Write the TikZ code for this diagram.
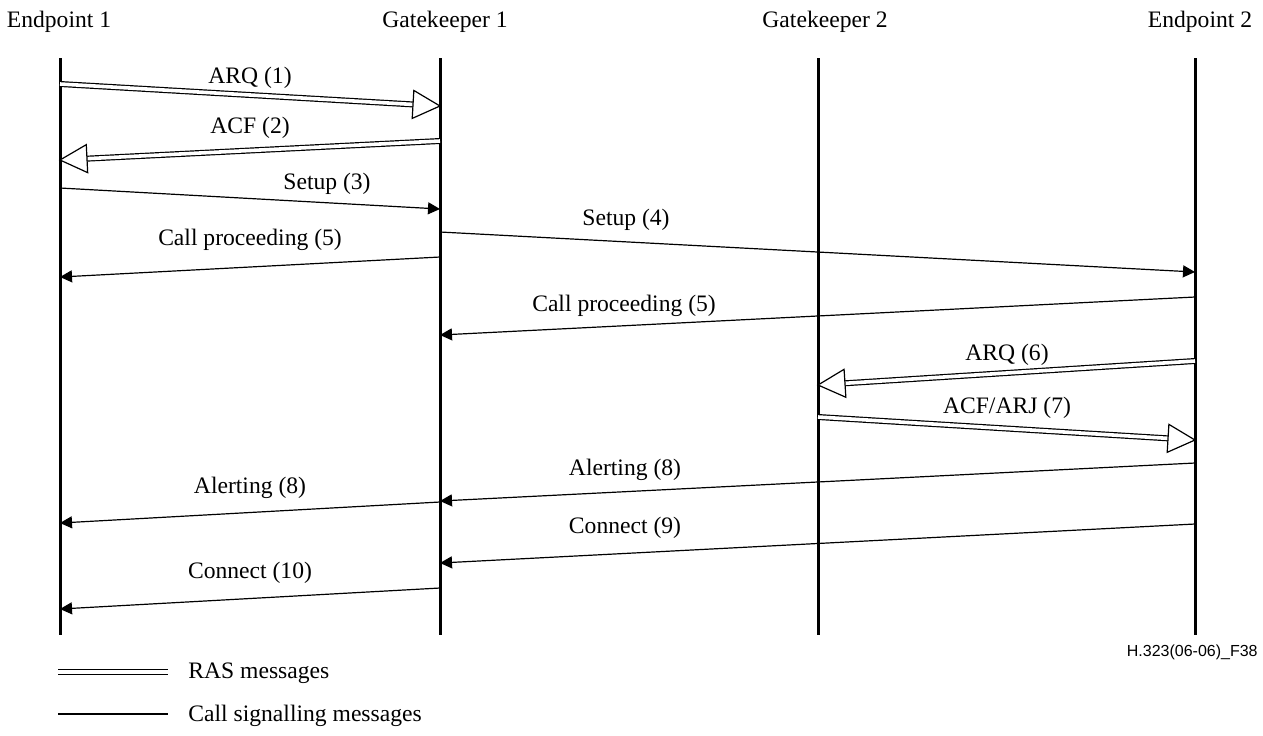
\documentclass[tikz,border=0pt]{standalone}
\usepackage{fontspec}
\setmainfont{Liberation Serif}
\newfontfamily\figfont{Liberation Sans}
\usepackage{tikz}
\usetikzlibrary{arrows.meta,decorations.markings}

\begin{document}
\begin{tikzpicture}[x=0.5pt,y=-0.5pt,
  lifeline/.style={line width=1.5pt},
  callmsg/.style={line width=.6pt,-{Triangle[length=6pt,width=6pt]}},
  rasline/.style={double,double distance=1.8pt,line width=.6pt},
  rasmsg/.style={rasline,shorten >=6pt,
    postaction={decorate},decoration={markings,mark=at position 1 with
      {\draw[line width=.6pt,fill=white] (0pt,0pt)--(-13.5pt,7pt)--(-13.5pt,-7pt)--cycle;}}},
  msglabel/.style={inner sep=1pt,font=\fontsize{11.8}{14}\selectfont},
  every node/.style={font=\fontsize{11.8}{14}\selectfont}]
  \useasboundingbox (0,0) rectangle (1263,735);
  % entities
  \node (ep1) at (59,22) {Endpoint 1};
  \node (gk1) at (445,22) {Gatekeeper 1};
  \node (gk2) at (825,22) {Gatekeeper 2};
  \node (ep2) at (1200,22) {Endpoint 2};
  \coordinate (ep1t) at (60,58);   \coordinate (ep1b) at (60,635);
  \coordinate (gk1t) at (440,58);  \coordinate (gk1b) at (440,635);
  \coordinate (gk2t) at (818,58);  \coordinate (gk2b) at (818,635);
  \coordinate (ep2t) at (1195,58); \coordinate (ep2b) at (1195,635);
  \foreach \l in {ep1,gk1,gk2,ep2}{\draw[lifeline] (\l t)--(\l b);}
  % message end points
  \coordinate (a1) at (60,84);    \coordinate (b1) at (440,106);
  \coordinate (a2) at (440,141);  \coordinate (b2) at (60,160);
  \coordinate (a3) at (60,188);   \coordinate (b3) at (440,209);
  \coordinate (a4) at (440,232);  \coordinate (b4) at (1195,272);
  \coordinate (a5) at (440,257);  \coordinate (b5) at (60,277);
  \coordinate (a6) at (1195,297); \coordinate (b6) at (440,335);
  \coordinate (a7) at (1195,361); \coordinate (b7) at (818,385);
  \coordinate (a8) at (818,417);  \coordinate (b8) at (1195,440);
  \coordinate (a9) at (1195,463); \coordinate (b9) at (440,501);
  \coordinate (a10) at (440,502); \coordinate (b10) at (60,523);
  \coordinate (a11) at (1195,524);\coordinate (b11) at (440,563);
  \coordinate (a12) at (440,588); \coordinate (b12) at (60,609);
  % RAS messages
  \foreach \m in {1,2,7,8}{\draw[rasmsg] (a\m)--(b\m);}
  % call signalling messages
  \foreach \m in {3,4,5,6,9,10,11,12}{\draw[callmsg] (a\m)--(b\m);}
  % labels
  \node[msglabel] (l1) at (250,78) {ARQ (1)};
  \node[msglabel] (l2) at (250,128) {ACF (2)};
  \node[msglabel] (l3) at (327,184) {Setup (3)};
  \node[msglabel] (l4) at (626,220) {Setup (4)};
  \node[msglabel] (l5) at (250,240) {Call proceeding (5)};
  \node[msglabel] (l6) at (624,306) {Call proceeding (5)};
  \node[msglabel] (l7) at (1007,355) {ARQ (6)};
  \node[msglabel] (l8) at (1007,408) {ACF/ARJ (7)};
  \node[msglabel] (l9) at (625,470) {Alerting (8)};
  \node[msglabel] (l10) at (250,488) {Alerting (8)};
  \node[msglabel] (l11) at (625,528) {Connect (9)};
  \node[msglabel] (l12) at (250,573) {Connect (10)};
  % legend
  \coordinate (rasA) at (58,672);  \coordinate (rasB) at (168,672);
  \coordinate (sigA) at (58,714);  \coordinate (sigB) at (168,714);
  \draw[rasline] (rasA)--(rasB);
  \draw[line width=.6pt] (sigA)--(sigB);
  \node[anchor=west,inner sep=0pt] (rastxt) at (188,673) {RAS messages};
  \node[anchor=west,inner sep=0pt] (sigtxt) at (188,716) {Call signalling messages};
  \node[anchor=east,inner sep=0pt,font=\figfont\fontsize{8}{10}\selectfont] (figid) at (1258,652) {H.323(06-06)\_F38};
\end{tikzpicture}
\end{document}
